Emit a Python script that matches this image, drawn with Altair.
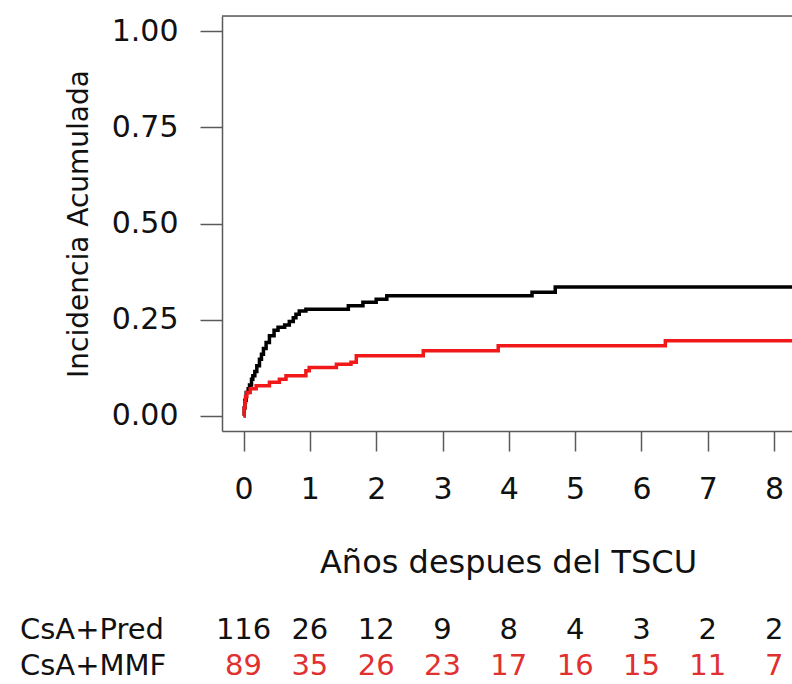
import altair as alt
import pandas as pd

# --- data ---
pred_t = [0, 0.01, 0.02, 0.04, 0.07, 0.09, 0.12, 0.14, 0.17, 0.20, 0.24, 0.27, 0.30, 0.34,
          0.39, 0.46, 0.52, 0.62, 0.69, 0.75, 0.79, 0.84, 0.94, 1.58, 1.80, 2.00, 2.16,
          4.35, 4.70, 8.5]
pred_v = [0, 0.02, 0.04, 0.06, 0.07, 0.08, 0.095, 0.104, 0.115, 0.13, 0.147, 0.16, 0.175,
          0.19, 0.208, 0.222, 0.23, 0.236, 0.245, 0.255, 0.264, 0.272, 0.277, 0.286, 0.295,
          0.303, 0.312, 0.321, 0.335, 0.335]
mmf_t = [0, 0.01, 0.02, 0.03, 0.05, 0.10, 0.19, 0.39, 0.54, 0.64, 0.94, 0.99, 1.40, 1.62,
         1.70, 2.71, 3.84, 6.36, 8.5]
mmf_v = [0, 0.02, 0.035, 0.05, 0.06, 0.07, 0.078, 0.087, 0.095, 0.104, 0.117, 0.125, 0.134,
         0.139, 0.156, 0.169, 0.182, 0.195, 0.195]

risk_times = [0, 1, 2, 3, 4, 5, 6, 7, 8]
risk_pred = [116, 26, 12, 9, 8, 4, 3, 2, 2]
risk_mmf = [89, 35, 26, 23, 17, 16, 15, 11, 7]
group_labels = ["CsA+Pred", "CsA+MMF"]

x_ticks = [0, 1, 2, 3, 4, 5, 6, 7, 8]
y_ticks = [0, 0.25, 0.5, 0.75, 1.0]

W, H = 570, 415
FONT = "DejaVu Sans"
GREY = "#5a5a5a"
RED = "#f01818"
RED_TXT = "#e03030"

pred_df = pd.DataFrame({"t": pred_t, "v": pred_v})
mmf_df = pd.DataFrame({"t": mmf_t, "v": mmf_v})

xscale = alt.Scale(domain=[-0.325, 8.27], nice=False, zero=False)
yscale = alt.Scale(domain=[-0.04, 1.04], nice=False, zero=False)

xaxis = alt.Axis(values=x_ticks, format="d", tickSize=20, tickWidth=1.5, tickColor=GREY,
                 domainColor=GREY, domainWidth=1.5, labelFontSize=30, labelFont=FONT,
                 labelColor="#111", labelPadding=23, grid=False, labelFlush=False,
                 title="Años despues del TSCU", titleFontSize=32, titleFont=FONT,
                 titleFontWeight="normal", titleColor="#111", titleY=141, titleX=286,
                 titleBaseline="alphabetic", titleAlign="center")
yaxis = alt.Axis(values=y_ticks, format=".2f", tickSize=22, tickWidth=1.5, tickColor=GREY,
                 domainColor=GREY, domainWidth=1.5, labelFontSize=30, labelFont=FONT,
                 labelColor="#111", labelPadding=22, grid=False, labelFlush=False,
                 title="Incidencia Acumulada", titleFontSize=28, titleFont=FONT,
                 titleFontWeight="normal", titleColor="#111", titleX=-135, titleY=H / 2,
                 titleAngle=270, titleBaseline="alphabetic", titleAlign="center")

pred_line = alt.Chart(pred_df).mark_line(
    interpolate="step-after", color="black", strokeWidth=3.5, clip=True
).encode(
    x=alt.X("t:Q", scale=xscale, axis=xaxis),
    y=alt.Y("v:Q", scale=yscale, axis=yaxis),
)
mmf_line = alt.Chart(mmf_df).mark_line(
    interpolate="step-after", color=RED, strokeWidth=3.5, clip=True
).encode(
    x=alt.X("t:Q", scale=xscale),
    y=alt.Y("v:Q", scale=yscale),
)

top_rule = alt.Chart(pd.DataFrame({"a": [0]})).mark_rule(
    color=GREY, strokeWidth=1.5
).encode(x=alt.value(0), x2=alt.value(W), y=alt.value(0))

risk_df = pd.DataFrame({
    "t": risk_times + risk_times,
    "n": risk_pred + risk_mmf,
    "row": [group_labels[0]] * len(risk_times) + [group_labels[1]] * len(risk_times),
})
ROW_Y = {group_labels[0]: 614, group_labels[1]: 650}

pred_nums = alt.Chart(risk_df[risk_df["row"] == group_labels[0]]).mark_text(
    font=FONT, fontSize=29, color="#111", baseline="middle", align="center"
).encode(x=alt.X("t:Q", scale=xscale), y=alt.value(ROW_Y[group_labels[0]]), text="n:Q")
mmf_nums = alt.Chart(risk_df[risk_df["row"] == group_labels[1]]).mark_text(
    font=FONT, fontSize=29, color=RED_TXT, baseline="middle", align="center"
).encode(x=alt.X("t:Q", scale=xscale), y=alt.value(ROW_Y[group_labels[1]]), text="n:Q")

label_df = pd.DataFrame({"row": group_labels, "ypix": [ROW_Y[g] for g in group_labels]})
row_labels = alt.Chart(label_df).mark_text(
    font=FONT, fontSize=29, color="#111", baseline="middle", align="left"
).encode(x=alt.value(-202), y=alt.Y("ypix:Q", scale=None), text="row:N")

chart = alt.layer(pred_line, mmf_line, top_rule, pred_nums, mmf_nums, row_labels).properties(
    width=W, height=H,
    autosize=alt.AutoSizeParams(type="none"),
    padding={"left": 222, "top": 16, "right": 0, "bottom": 684 - 16 - H},
).configure_view(stroke=None).configure(font=FONT, background="white")

chart.save("out.html", embed_options={"renderer": "svg", "actions": False})
